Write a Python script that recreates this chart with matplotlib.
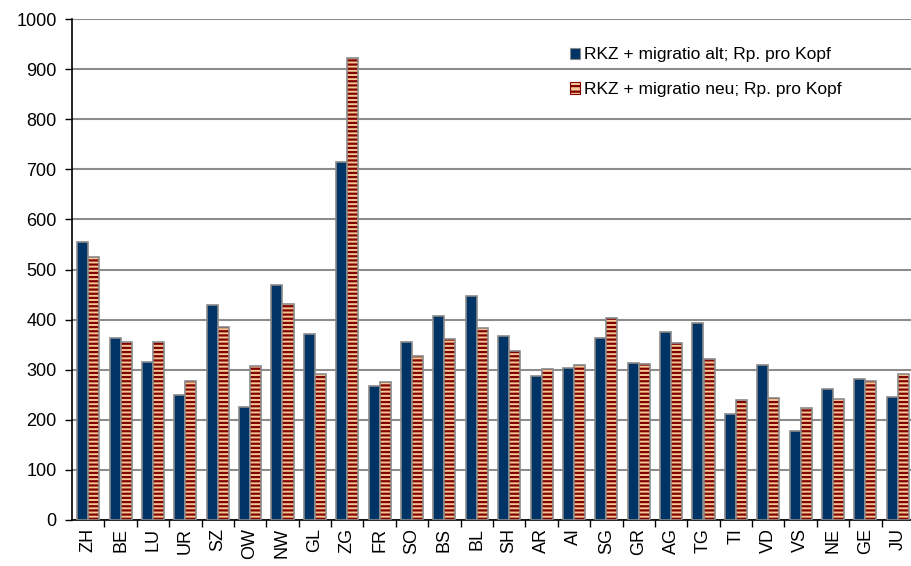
import numpy as np
import matplotlib
matplotlib.use("Agg")
import matplotlib.pyplot as plt
from matplotlib.patches import Patch

# Kantone
kantone = ['ZH', 'BE', 'LU', 'UR', 'SZ', 'OW', 'NW', 'GL', 'ZG', 'FR', 'SO', 'BS', 'BL',
           'SH', 'AR', 'AI', 'SG', 'GR', 'AG', 'TG', 'TI', 'VD', 'VS', 'NE', 'GE', 'JU']

# Rp. pro Kopf
alt = [554, 363, 316, 250, 429, 226, 469, 371, 715, 267, 355, 408, 448,
       367, 288, 303, 363, 314, 375, 393, 212, 309, 178, 261, 282, 246]
neu = [525, 356, 356, 277, 385, 308, 432, 291, 923, 275, 328, 361, 383,
       337, 302, 310, 404, 311, 354, 321, 240, 243, 223, 241, 277, 291]

label_alt = 'RKZ + migratio alt; Rp. pro Kopf'
label_neu = 'RKZ + migratio neu; Rp. pro Kopf'

navy = '#003366'
peach = '#f7c994'
darkred = '#800000'
edge = '#8a8a8a'

plt.rcParams['font.family'] = ['Liberation Sans', 'DejaVu Sans']
plt.rcParams['hatch.linewidth'] = 1.6

fig = plt.figure(figsize=(9.12, 5.66), dpi=100)
ax = fig.add_axes([72 / 912, 46 / 566, 842 / 912, 501 / 566])

x = np.arange(len(kantone))
w = 0.34

ax.bar(x - w / 2, alt, width=w, color=navy, edgecolor=edge, linewidth=1.2, zorder=3)
# hatch colour comes from edgecolor, so draw the outline separately
ax.bar(x + w / 2, neu, width=w, color=peach, edgecolor=darkred, hatch='----',
       linewidth=0, zorder=3)
ax.bar(x + w / 2, neu, width=w, fill=False, edgecolor=edge, linewidth=1.2, zorder=4)

ax.set_xlim(-0.5, len(kantone) - 0.5)
ax.set_ylim(0, 1000)
ax.set_yticks(range(0, 1001, 100))
ax.tick_params(axis='y', labelsize=13, length=5, width=1, direction='out', pad=6)

ax.set_xticks(x)
ax.set_xticklabels(kantone, rotation=90, fontsize=13)
ax.tick_params(axis='x', length=0, pad=6)
ax.set_xticks(np.arange(len(kantone)) + 0.5, minor=True)
ax.tick_params(axis='x', which='minor', length=5, width=1, direction='out')

ax.yaxis.grid(True, color='#8c8c8c', linewidth=1.5, zorder=0)
ax.set_axisbelow(True)
for s in ['top', 'right']:
    ax.spines[s].set_visible(False)
ax.spines['left'].set_linewidth(1.2)
ax.spines['bottom'].set_linewidth(1.2)

handles = [Patch(facecolor=navy, edgecolor=edge, linewidth=0.8),
           Patch(facecolor=peach, edgecolor=darkred, hatch='---', linewidth=0.8)]
ax.legend(handles, [label_alt, label_neu], loc='upper left',
          bbox_to_anchor=(482 / 842, 0.975), frameon=False, fontsize=12.5,
          handlelength=0.6, handleheight=0.6, handletextpad=0.25,
          labelspacing=1.15)

fig.savefig('out.png', dpi=100)
